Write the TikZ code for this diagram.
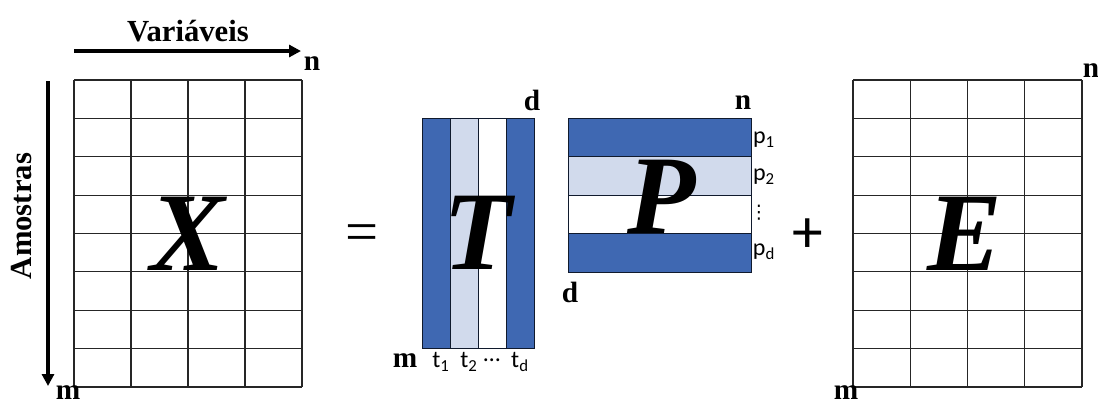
\documentclass[tikz,border=0pt]{standalone}
\usepackage{fontspec}
\setmainfont{Liberation Serif}
\newfontfamily\labfont{Carlito}
\newfontfamily\symfont{DejaVu Sans}
\usetikzlibrary{arrows.meta, positioning}
\definecolor{pcablue}{HTML}{3F68B2}
\definecolor{pcalight}{HTML}{D1DAEC}
\tikzset{
  dimlabel/.style={font=\bfseries\fontsize{22}{24}\selectfont, inner sep=0pt},
  bigletter/.style={font=\bfseries\itshape\fontsize{84}{84}\selectfont, inner sep=0pt},
  sublabel/.style={font=\labfont\fontsize{18}{20}\selectfont, inner sep=0pt},
  gridline/.style={line width=0.8pt, black!85},
  bandline/.style={line width=0.7pt, black!75!pcablue},
  axisarrow/.style={line width=2.3pt, -{Triangle[length=9pt,width=9pt]}},
}
\begin{document}
\begin{tikzpicture}[x=0.75pt,y=-0.75pt]
  \useasboundingbox (0,0) rectangle (1098,405);
  % matrix X and matrix E
  \foreach \i in {0,...,4} {
    \draw[gridline] ({74+57*\i},80) -- ({74+57*\i},387);
    \draw[gridline] ({853+57.25*\i},80) -- ({853+57.25*\i},387);
  }
  \foreach \j in {0,...,8} {
    \draw[gridline] (74,{80+38.375*\j}) -- (302,{80+38.375*\j});
    \draw[gridline] (853,{80+38.375*\j}) -- (1082,{80+38.375*\j});
  }
  % matrix T (scores)
  \fill[pcablue]  (422,118) rectangle (450,348);
  \fill[pcalight] (450,118) rectangle (478,348);
  \fill[white]    (478,118) rectangle (506,348);
  \fill[pcablue]  (506,118) rectangle (534,348);
  \foreach \x in {422,450,478,506} \draw[bandline] (\x,118) rectangle ({\x+28},348);
  % matrix P (loadings)
  \fill[pcablue]  (568,118) rectangle (751,156.5);
  \fill[pcalight] (568,156.5) rectangle (751,195);
  \fill[white]    (568,195) rectangle (751,233.5);
  \fill[pcablue]  (568,233.5) rectangle (751,272);
  \foreach \y in {118,156.5,195,233.5} \draw[bandline] (568,\y) rectangle (751,{\y+38.5});
  % big letters
  \node[bigletter] (Xlet) at (188,234) {X};
  \node[bigletter] (Tlet) at (478,233) {T};
  \node[bigletter] (Plet) at (662,197) {P};
  \node[bigletter] (Elet) at (965,234) {E};
  \node[font=\fontsize{44}{44}\selectfont, inner sep=0pt] (eq) at (362,238) {=};
  \node[font=\labfont\fontsize{46}{46}\selectfont, inner sep=0pt] (plus) at (808,236) {+};
  % axes of X
  \coordinate (vstart) at (74,51);
  \coordinate (vend) at (301,51);
  \coordinate (astart) at (48,81);
  \coordinate (aend) at (48,386);
  \draw[axisarrow] (vstart) -- (vend);
  \draw[axisarrow] (astart) -- (aend);
  \node[dimlabel, font=\bfseries\fontsize{23}{24}\selectfont] (var) at (188,31) {Variáveis};
  \node[dimlabel, font=\bfseries\fontsize{23}{24}\selectfont, rotate=90] (amo) at (22,216) {Amostras};
  \node[dimlabel] (Xn) at (312,64) {n};
  \node[dimlabel] (Xm) at (68,393) {m};
  % labels of T
  \node[dimlabel] (Td) at (532,100) {d};
  \node[dimlabel] (Tm) at (405,361) {m};
  \node[sublabel] (t1) at (441,362) {t\textsubscript{1}};
  \node[sublabel] (t2) at (469,362) {t\textsubscript{2}};
  \node[sublabel] (tdots) at (492,360) {\dots};
  \node[sublabel] (td) at (520,362) {t\textsubscript{d}};
  % labels of P
  \node[dimlabel] (Pn) at (743,103) {n};
  \node[dimlabel] (Pd) at (570,292) {d};
  \node[sublabel] (p1) at (764,140) {p\textsubscript{1}};
  \node[sublabel] (p2) at (764,177) {p\textsubscript{2}};
  \node[sublabel, font=\symfont\fontsize{14}{14}\selectfont] (pdots) at (759,213) {⋮};
  \node[sublabel] (pd) at (764,252) {p\textsubscript{d}};
  % labels of E
  \node[dimlabel] (En) at (1091,71) {n};
  \node[dimlabel] (Em) at (846,393) {m};
\end{tikzpicture}
\end{document}
